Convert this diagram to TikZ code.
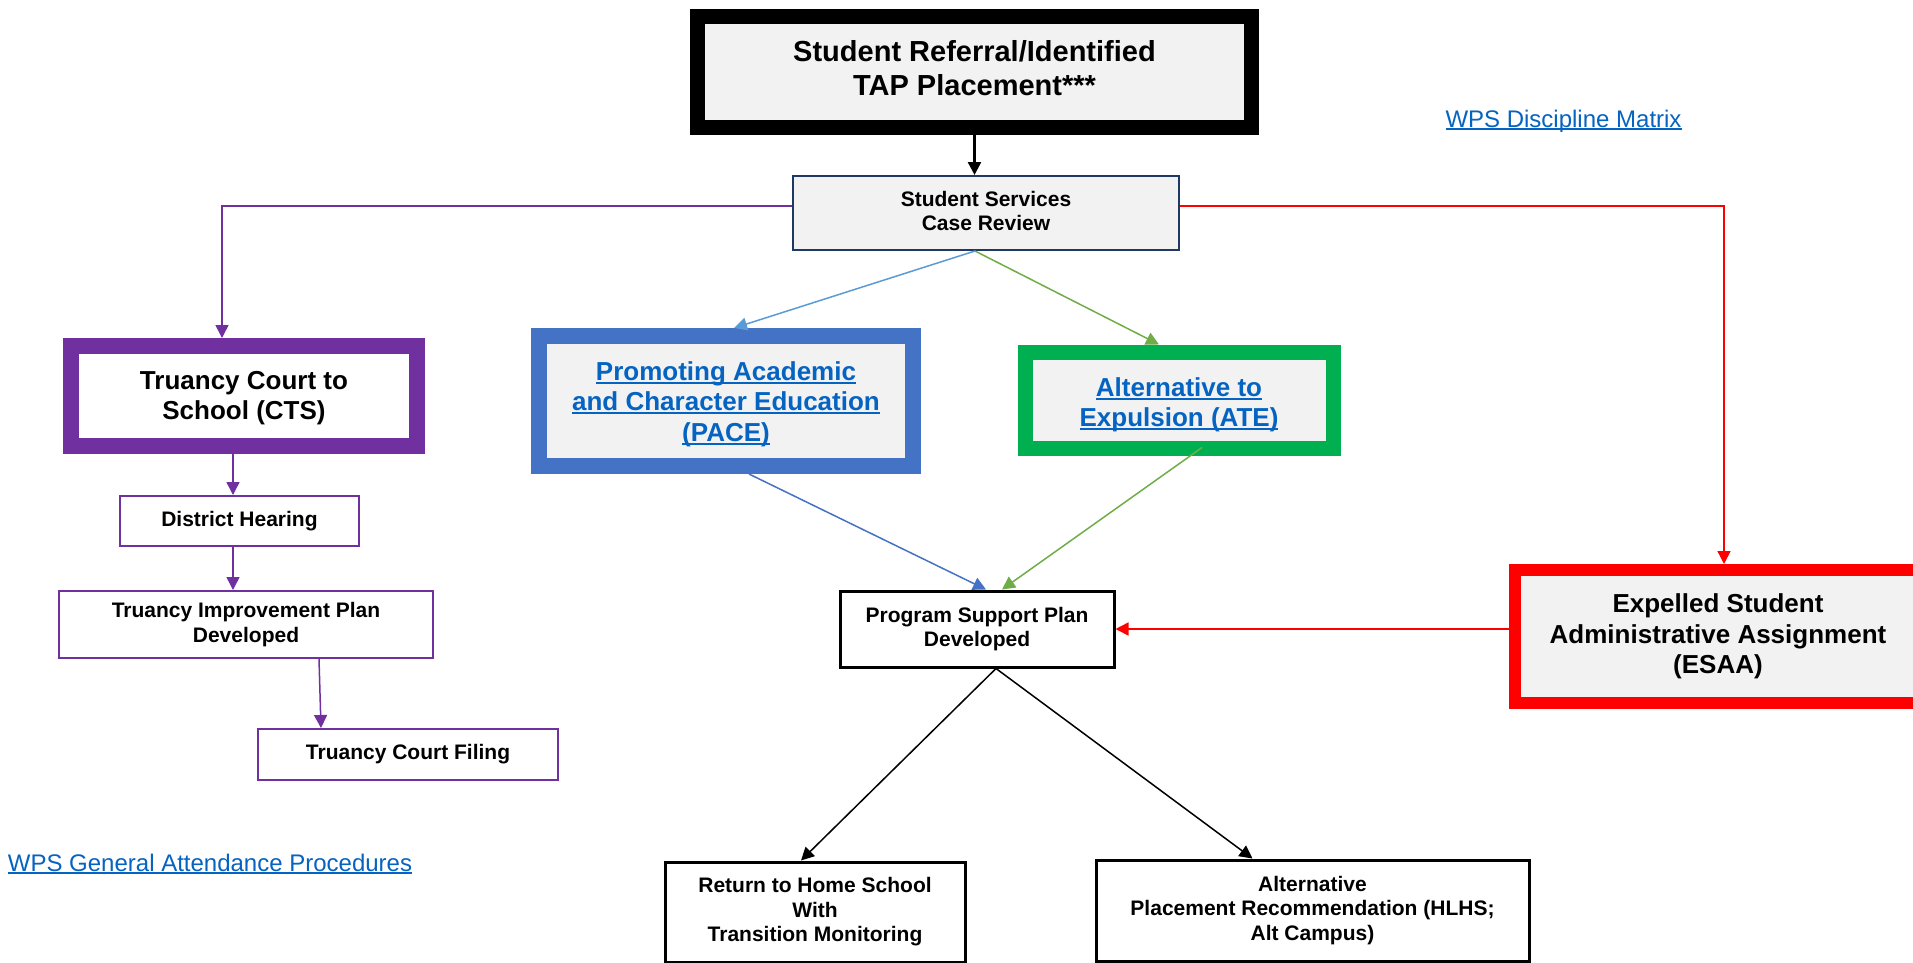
\documentclass[tikz,border=0pt]{standalone}
\usepackage{fontspec}
\setmainfont{Liberation Sans}
\usetikzlibrary{arrows.meta,calc}
\definecolor{purp}{HTML}{7030A0}
\definecolor{pblue}{HTML}{4472C4}
\definecolor{lblue}{HTML}{5B9BD5}
\definecolor{pgreen}{HTML}{00B050}
\definecolor{lgreen}{HTML}{70AD47}
\definecolor{navy}{HTML}{1F3864}
\definecolor{boxfill}{HTML}{F2F2F2}
\definecolor{linkc}{HTML}{0563C1}
\definecolor{pred}{HTML}{FF0000}
\newcommand\myul[1]{\setbox0=\hbox{#1}\rlap{\rule[-0.13em]{\wd0}{0.08em}}\box0}
\begin{document}
\begin{tikzpicture}[x=1pt,y=-1pt,
  conn/.style={line width=1.5pt,-{Triangle[length=13pt,width=13pt]}},
  boxbase/.style={rectangle, align=center, inner sep=0pt},
  txt/.style={align=center, inner sep=0pt},
  bigfont/.style={font=\fontsize{26}{30.5}\selectfont\bfseries},
  smallfont/.style={font=\fontsize{21}{24.5}\selectfont\bfseries},
  purpbox/.style={boxbase, smallfont, draw=purp, line width=2pt, fill=white},
  blackbox/.style={boxbase, smallfont, draw=black, line width=3pt, fill=white},
  linktext/.style={inner sep=0pt, text=linkc, font=\fontsize{24}{28}\selectfont}
]
\useasboundingbox (0,0) rectangle (1913,963);
\fill[white] (0,0) rectangle (1913,963);

% main boxes
\node[boxbase, draw=black, line width=15pt, fill=boxfill, minimum width=554pt, minimum height=111pt] (top) at (974.5,72) {};
\node[txt, font=\fontsize{29}{33.5}\selectfont\bfseries] (toptxt) at ([yshift=4pt]top.center)
      {Student Referral/Identified\\TAP Placement***};
\node[boxbase, draw=navy, line width=2pt, fill=boxfill, minimum width=386pt, minimum height=74pt] (ss) at (986,213) {};
\node[txt, smallfont] (sstxt) at ([yshift=2pt]ss.center) {Student Services\\Case Review};
\node[boxbase, draw=purp, line width=16pt, fill=white, minimum width=346pt, minimum height=100pt] (cts) at (244,396) {};
\node[txt, bigfont] (ctstxt) at ([yshift=-2pt]cts.center) {Truancy Court to\\School (CTS)};
\node[purpbox, minimum width=239pt, minimum height=50pt] (dh) at (239.5,521) {District Hearing};
\node[purpbox, minimum width=374pt, minimum height=67pt] (tip) at (246,624.5) {Truancy Improvement Plan\\Developed};
\node[purpbox, minimum width=300pt, minimum height=51pt] (fil) at (408,754.5) {Truancy Court Filing};
\node[boxbase, draw=pblue, line width=16pt, fill=boxfill, minimum width=374pt, minimum height=130pt] (pace) at (726,401) {};
\node[txt, bigfont, text=linkc] (pacetxt) at ([yshift=-3pt]pace.center)
      {\myul{Promoting Academic}\\\myul{and Character Education}\\\myul{(PACE)}};
\node[boxbase, draw=pgreen, line width=15pt, fill=boxfill, minimum width=308pt, minimum height=96pt] (ate) at (1179,400) {};
\node[txt, bigfont, text=linkc] (atetxt) at ([yshift=-5pt]ate.center)
      {\myul{Alternative to}\\\myul{Expulsion (ATE)}};
\node[boxbase, bigfont, draw=pred, line width=12pt, fill=boxfill, minimum width=406pt, minimum height=133pt]
      (esaa) at (1718,636.5) {Expelled Student\\Administrative Assignment\\(ESAA)};
\node[blackbox, minimum width=274pt, minimum height=76pt] (psd) at (977,629) {Program Support Plan\\Developed};
\node[blackbox, minimum width=300pt, minimum height=100pt] (rhs) at (815,912) {Return to Home School\\With\\Transition Monitoring};
\node[blackbox, minimum width=433pt, minimum height=101pt] (alt) at (1312.5,910.5) {Alternative\\Placement Recommendation (HLHS;\\Alt Campus)};

% links
\node[linktext] (wdm) at (1563.5,121) {\myul{WPS Discipline Matrix}};
\node[linktext] (wga) at (210,864) {\myul{WPS General Attendance Procedures}};

% connectors
\draw[conn, line width=2.5pt] (top.south) -- (top.south |- ss.north);
\draw[conn, purp] ([yshift=7pt]ss.west) -| ([xshift=-22pt]cts.north);
\draw[conn, pred] ([yshift=7pt]ss.east) -| ([xshift=6pt]esaa.north);
\draw[conn, lblue] ([xshift=-11pt]ss.south) -- ([xshift=8pt]pace.north);
\draw[conn, lgreen] ([xshift=-11pt]ss.south) -- ([xshift=-20pt]ate.north);
\draw[conn, pblue] ([xshift=23pt]pace.south) -- ([xshift=9pt]psd.north);
\draw[conn, lgreen] ([xshift=23pt,yshift=8pt]ate.south) -- ([xshift=25pt]psd.north);
\draw[conn, pred] (esaa.west |- psd.east) -- (psd.east);
\draw[conn, black] ([xshift=19pt]psd.south) -- ([xshift=-14pt]rhs.north);
\draw[conn, black] ([xshift=19pt]psd.south) -- ([xshift=-60pt]alt.north);
\draw[conn, purp] ([xshift=-11pt]cts.south) -- ([xshift=-11pt]cts.south |- dh.north);
\draw[conn, purp] ([xshift=-6.5pt]dh.south) -- ([xshift=-6.5pt]dh.south |- tip.north);
\draw[conn, purp] ([xshift=73pt]tip.south) -- ([xshift=-87pt]fil.north);
\end{tikzpicture}
\end{document}
